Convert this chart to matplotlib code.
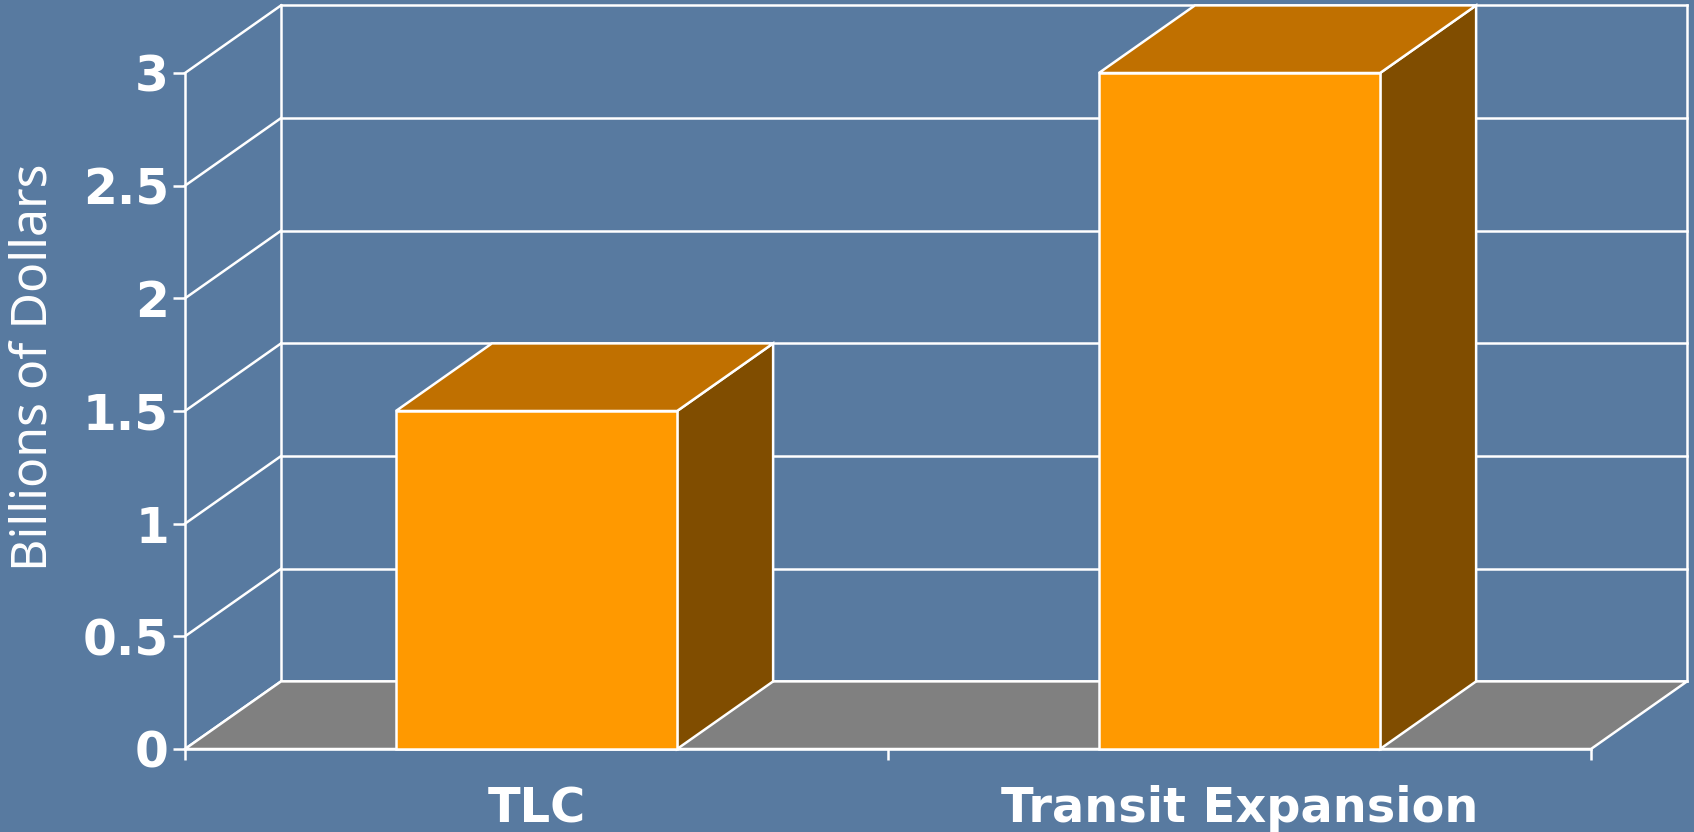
import matplotlib
matplotlib.use('Agg')
import matplotlib.pyplot as plt
from matplotlib.patches import Polygon

categories = ['TLC', 'Transit Expansion']
values = [1.5, 3.0]
y_ticks = [0, 0.5, 1, 1.5, 2, 2.5, 3]
y_tick_labels = ['0', '0.5', '1', '1.5', '2', '2.5', '3']

bg = '#587aa0'
front_color = '#ff9900'
top_color = '#c07000'
side_color = '#804d00'
floor_color = '#808080'

# 3d look: depth offset of the box (x in category slots, y in value units)
dx = 0.1366
dy = 0.3
bar_w = 0.4
lw = 1.8
n = len(categories)

fig = plt.figure(figsize=(16.94, 8.32), dpi=100)
fig.patch.set_facecolor(bg)
ax = fig.add_axes([185 / 1694, 83 / 832, 1406 / 1694, 676 / 832])
ax.set_xlim(0, n)
ax.set_ylim(0, 3)
ax.patch.set_visible(False)

# back wall + side wall grid
for v in y_ticks:
    ax.plot([dx, n + dx], [v + dy, v + dy], color='white', lw=lw, clip_on=False, zorder=1)
    ax.plot([0, dx], [v, v + dy], color='white', lw=lw, clip_on=False, zorder=1)
for xe in [dx, n + dx]:
    ax.plot([xe, xe], [dy, y_ticks[-1] + dy], color='white', lw=lw, clip_on=False, zorder=1)

# floor
floor = Polygon([(0, 0), (n, 0), (n + dx, dy), (dx, dy)], closed=True,
                facecolor=floor_color, edgecolor='white', lw=lw, clip_on=False, zorder=2)
ax.add_patch(floor)

# bars
for i, val in enumerate(values):
    x0 = i + 0.5 - bar_w / 2
    x1 = x0 + bar_w
    side = Polygon([(x1, 0), (x1 + dx, dy), (x1 + dx, val + dy), (x1, val)],
                   facecolor=side_color, edgecolor='white', lw=lw, clip_on=False, zorder=3)
    top = Polygon([(x0, val), (x1, val), (x1 + dx, val + dy), (x0 + dx, val + dy)],
                  facecolor=top_color, edgecolor='white', lw=lw, clip_on=False, zorder=3)
    front = Polygon([(x0, 0), (x1, 0), (x1, val), (x0, val)],
                    facecolor=front_color, edgecolor='white', lw=lw, clip_on=False, zorder=3)
    for p in (side, top, front):
        p.set_joinstyle('miter')
        ax.add_patch(p)

for s in ['top', 'right']:
    ax.spines[s].set_visible(False)
for s in ['left', 'bottom']:
    ax.spines[s].set_color('white')
    ax.spines[s].set_linewidth(lw)

ax.set_yticks(y_ticks)
ax.set_yticklabels(y_tick_labels, fontsize=35, fontweight='bold', color='white',
                   family='DejaVu Sans')
ax.tick_params(axis='y', direction='out', length=8.6, width=lw, color='white', pad=3)

ax.set_xticks(range(n + 1))
ax.set_xticklabels([''] * (n + 1))
ax.tick_params(axis='x', which='major', direction='out', length=8, width=lw, color='white')
ax.set_xticks([i + 0.5 for i in range(n)], minor=True)
ax.set_xticklabels(categories, minor=True, fontsize=34.5, fontweight='bold', color='white',
                   family='DejaVu Sans')
ax.tick_params(axis='x', which='minor', length=0, pad=26)

fig.text(33.5 / 1694, 1 - 367 / 832, 'Billions of Dollars', rotation=90, ha='center',
         va='center', fontsize=36, family='Noto Sans', color='white')

fig.savefig('out.png', dpi=100, facecolor=bg)
